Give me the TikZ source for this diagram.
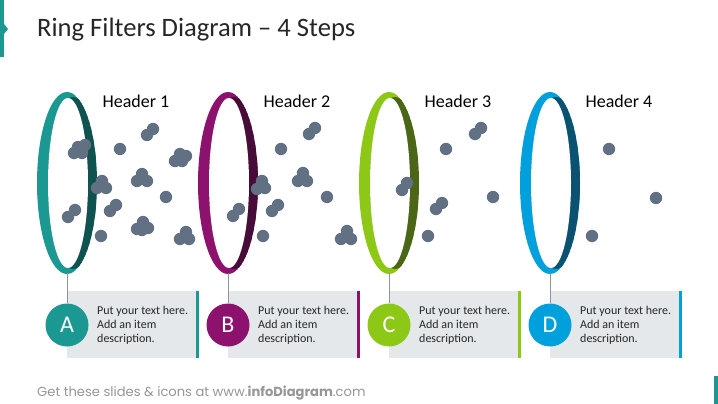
\documentclass[tikz,border=0pt]{standalone}
\usepackage{fontspec}
\setmainfont{Carlito}
\newfontfamily\footfont{Poppins}
\definecolor{tealL}{RGB}{27,152,145}
\definecolor{tealD}{RGB}{16,82,80}
\definecolor{purpL}{RGB}{140,18,110}
\definecolor{purpD}{RGB}{72,12,56}
\definecolor{grnL}{RGB}{142,200,22}
\definecolor{grnD}{RGB}{74,102,22}
\definecolor{bluL}{RGB}{0,160,220}
\definecolor{bluD}{RGB}{10,82,112}
\definecolor{dotc}{RGB}{98,112,132}
\definecolor{boxc}{RGB}{229,232,235}
\definecolor{linec}{RGB}{140,148,158}
\definecolor{txt}{RGB}{38,38,38}
\definecolor{footc}{RGB}{150,150,150}
\tikzset{
  letterc/.style={circle, minimum size=43pt, inner sep=0pt, text=white, font=\fontsize{24}{24}\selectfont},
  headtxt/.style={font=\fontsize{18}{20}\selectfont, text=black, inner sep=0pt},
  bodytxt/.style={font=\fontsize{12}{14}\selectfont, text=txt, align=left, inner sep=0pt, anchor=west},
  conn/.style={draw=linec, line width=1pt},
  dot/.style={fill=dotc}
}
\begin{document}
\begin{tikzpicture}[x=1pt,y=-1pt]
\useasboundingbox (0,0) rectangle (718,404);
% left accent
\fill[tealL] (0,0) rectangle (4,57);
\fill[tealL] (4,24) -- (8,29) -- (4,34) -- cycle;
\fill[tealL] (714,376) rectangle (718,404);
% title
\node[anchor=base west, inner sep=0pt, font=\fontsize{26.6}{30}\selectfont, text=txt] (title) at (37,37) {Ring Filters Diagram -- 4 Steps};
% steps
\foreach \c/\L/\D/\n/\i in {67/tealL/tealD/A/1, 228/purpL/purpD/B/2, 389/grnL/grnD/C/3, 550/bluL/bluD/D/4}{
  \begin{scope}
    \clip (\c,183) ellipse [x radius=30, y radius=91];
    \fill[\L] (\c,183) ellipse [x radius=30, y radius=91];
    \fill[\D] (\c+6,183) ellipse [x radius=25, y radius=86];
  \end{scope}
  \fill[white] (\c+1,183) ellipse [x radius=20, y radius=85];
  \coordinate (rb\i) at (\c,273);
  \node[headtxt, anchor=base] (h\i) at (\c+69,107) {Header \i};
  \fill[boxc] (\c,291) rectangle (\c+130,358);
  \fill[\L] (\c+129,291) rectangle (\c+132,358);
  \node[letterc, fill=\L] (l\i) at (\c,325) {\n};
  \draw[conn] (rb\i) -- (l\i.north);
  \node[bodytxt] (t\i) at (\c+30,325) {Put your text here.\\Add an item\\description.};
}
% dots
\foreach \x/\y in {
  74/153, 78/147, 85/145, 82/153,
  97/188, 102/181, 106/188,
  68/217, 75/210,
  120/149,
  147/135, 153/129,
  137/181, 142/174, 147/181,
  175/161, 180/154, 186/156, 182/161,
  166/197,
  110/211, 116/205,
  101/236,
  137/229, 143/222, 148/228, 142/230,
  180/239, 186/232, 189/239,
  233/216, 239/209,
  257/189, 262/181, 265/188,
  281/149,
  309/134, 315/128,
  298/181, 303/173, 307/181,
  327/197,
  272/211, 278/205,
  263/236,
  341/239, 347/231, 351/239,
  402/190, 407/183,
  446/149,
  475/134, 481/128,
  436/209, 442/203,
  428/236,
  493/197,
  609/149, 656/198, 592/236}{
  \fill[dot] (\x,\y) circle (6.2);
}
% footer
\node[anchor=base west, inner sep=0pt, text=footc, font=\footfont\fontsize{13.1}{15}\selectfont] (foot) at (37,396) {Get these slides \& icons at www.\textbf{infoDiagram}.com};
\end{tikzpicture}
\end{document}
